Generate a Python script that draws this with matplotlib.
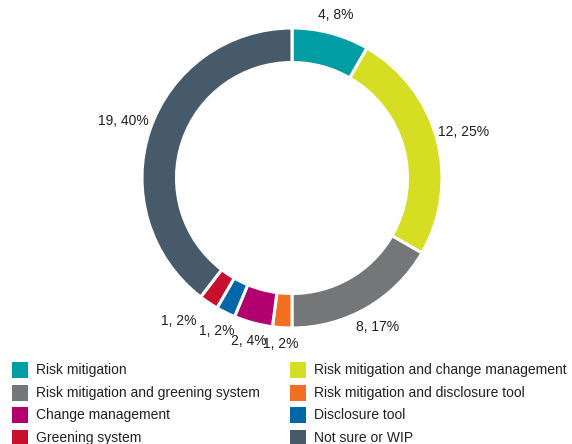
import numpy as np
import matplotlib.pyplot as plt
from matplotlib.patches import Rectangle

labels = ['Risk mitigation', 'Risk mitigation and change management',
          'Risk mitigation and greening system', 'Risk mitigation and disclosure tool',
          'Change management', 'Disclosure tool', 'Greening system', 'Not sure or WIP']
counts = [4, 12, 8, 1, 2, 1, 1, 19]
percents = [8, 25, 17, 2, 4, 2, 2, 40]
colors = ['#009EA4', '#D6DE23', '#747678', '#F26F21',
          '#B2006E', '#0067A9', '#C8102E', '#465A69']

plt.rcParams['font.family'] = ['Liberation Sans', 'DejaVu Sans']

W, H = 572, 444
fig = plt.figure(figsize=(W / 100, H / 100), dpi=100)

# pie axes: centre (292, 178) px, radius 150 px
cx, cy, R = 292, 178, 150
ax = fig.add_axes([(cx - R) / W, 1 - (cy + R) / H, 2 * R / W, 2 * R / H])
wedges, _ = ax.pie(counts, colors=colors, startangle=90, counterclock=False,
                   radius=1.0, wedgeprops=dict(width=0.23, edgecolor='white', linewidth=2.2))
ax.set_xlim(-1, 1)
ax.set_ylim(-1, 1)
ax.set_aspect('equal')
ax.axis('off')

for w, c, p in zip(wedges, counts, percents):
    ang = np.deg2rad((w.theta1 + w.theta2) / 2)
    r = 1.1 + 0.09 * abs(np.cos(ang))
    x, y = r * np.cos(ang), r * np.sin(ang)
    # lower-left labels crowd together, so hang those to the left
    ha = 'right' if -0.75 < np.cos(ang) < -0.5 else 'center'
    ax.text(x, y, f'{c}, {p}%', ha=ha, va='center',
            fontsize=10, color='#231F20', clip_on=False)

# legend, two columns, filled row by row
for i, (lab, col) in enumerate(zip(labels, colors)):
    column, row = i % 2, i // 2
    x0 = 12 if column == 0 else 290
    yc = 370 + row * 22.7
    fig.patches.append(Rectangle((x0 / W, 1 - (yc + 8) / H), 16 / W, 16 / H,
                                 transform=fig.transFigure, facecolor=col, edgecolor='none'))
    fig.text((x0 + 24) / W, 1 - yc / H, lab, ha='left', va='center',
             fontsize=10, color='#231F20')

fig.savefig('out.png', dpi=100)
